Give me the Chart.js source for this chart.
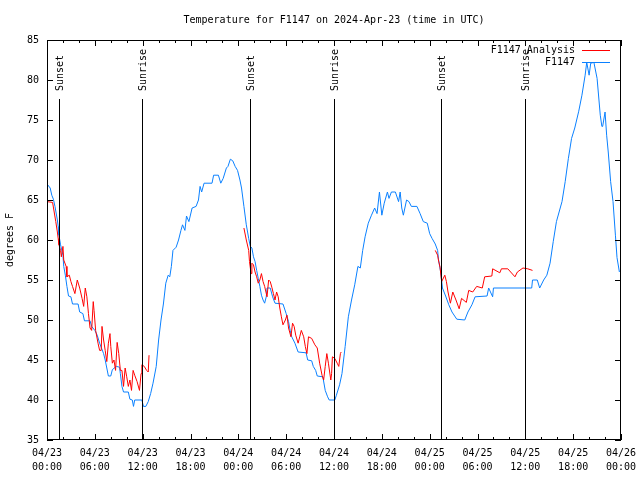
<!DOCTYPE html>
<html>
<head>
<meta charset="utf-8">
<script src="https://cdn.jsdelivr.net/npm/chart.js@4"></script>
<style>html,body{margin:0;padding:0;background:#fff}</style>
</head>
<body>
<canvas id="chart" width="640" height="480"></canvas>
<script>
// hours since 2024-04-23 00:00 UTC
const obsHours = [0.0,0.4,0.6,0.8,1.0,1.3,1.4,1.5,1.7,2.0,2.1,2.3,2.5,2.7,3.0,3.2,3.9,4.1,4.5,4.7,5.4,5.6,6.0,6.3,6.6,7.1,7.3,7.5,7.7,8.0,8.2,8.7,9.1,9.2,9.4,9.6,10.2,10.4,10.7,10.85,11.0,11.9,12.1,12.4,12.7,13.0,13.3,13.7,14.0,14.3,14.6,14.9,15.2,15.4,15.6,15.8,16.2,16.5,16.8,17.0,17.3,17.5,17.8,18.2,18.7,19.0,19.2,19.4,19.7,20.7,20.9,21.5,21.8,22.1,22.5,22.7,23.0,23.3,23.6,23.9,24.2,24.4,24.7,25.0,25.3,25.5,25.7,25.9,26.1,26.3,26.5,26.7,26.9,27.1,27.3,27.5,27.6,28.0,28.3,28.6,29.6,30.0,30.3,30.5,30.7,31.1,31.5,32.5,32.7,33.2,33.4,33.7,33.9,34.6,34.9,35.2,35.4,36.1,36.3,36.7,37.0,37.2,37.4,37.8,38.2,38.6,39.0,39.3,39.6,39.9,40.3,40.7,41.1,41.4,41.7,42.0,42.3,42.7,42.9,43.2,43.7,44.1,44.3,44.5,44.7,45.1,45.4,45.7,46.4,46.8,47.2,47.7,48.0,48.3,48.7,49.0,49.1,49.4,49.6,50.0,50.4,50.8,51.4,52.4,52.8,53.3,53.7,55.2,55.4,55.9,56.0,60.8,60.9,61.5,61.8,62.3,62.7,63.1,63.5,63.9,64.6,65.0,65.4,65.8,66.2,66.7,67.1,67.5,67.7,68.0,68.2,68.6,69.0,69.4,69.6,69.7,70.0,70.2,70.4,70.7,71.0,71.3,71.5,71.8];
const obsTemps = [67,66.5,65.6,65.1,64.2,62.5,61.7,60.6,59.4,58.1,56.7,55.6,54.2,53,52.9,52,52,51,50.8,49.9,49.9,49.2,48.7,48.1,47.1,45.8,45,44,43,43,43.8,44.2,44.1,43.3,41.7,41,41,40.1,40,39.2,40,40,39.2,39.2,39.8,40.8,42.1,44.2,47.5,50,52,54.6,55.6,55.4,56.7,58.7,59.1,60,61.2,61.9,61.2,63,62.3,64,64.2,65,66.7,66,67.1,67.1,68.1,68.1,67.1,67.7,69,69.2,70.1,69.9,69.2,68.7,67.5,66.5,64.2,61.9,60.2,59.2,59,57.9,57.3,56.2,55.2,54.2,53.1,52.5,52.1,52.9,54,54,52.9,52.1,52,50.8,49.8,48.7,47.9,47.1,46,45.9,45,44.9,44.2,43.7,43,42.9,41.2,40.4,40,40,40.6,41.9,43.3,45,46.7,50.4,52.5,54.4,56.7,56.5,58.7,60.4,62.1,63.1,64,63.3,66,63.1,64.6,66,65.2,66,66,64.8,66,64,63.1,65,64.8,64.2,64.2,63.3,62.3,62.1,60.8,60.2,59.5,58.7,57.6,55.9,54,53,51.9,51,50.1,50,51,51.9,52.9,53,54,52.9,54,54,55,55,54,55,55.6,57.1,59.8,62.3,64.8,67.3,70.2,72.7,74,76.1,78.1,80.6,82.2,80.6,82.1,82.2,80.2,75.6,74.2,74.2,76,73.1,71,67.3,64.8,60.6,57.8,56];

// analysis runs only overnight; null marks the breaks
const anaHours = [0.0,0.7,0.9,1.1,1.3,1.4,1.5,1.7,1.8,2.0,2.1,2.4,2.5,2.8,3.0,3.2,3.5,3.8,4.1,4.4,4.6,4.8,5.0,5.2,5.4,5.6,5.8,5.9,6.1,6.4,6.6,6.8,6.9,7.1,7.3,7.5,7.7,7.9,8.0,8.2,8.4,8.6,8.8,9.0,9.2,9.4,9.6,9.8,10.0,10.2,10.4,10.6,10.8,11.0,11.3,11.6,11.8,11.9,12.2,12.5,12.7,12.8,
  18,
  24.7,25.0,25.3,25.4,25.6,25.7,25.9,26.1,26.3,26.5,26.7,26.9,27.1,27.3,27.6,27.8,28.0,28.2,28.4,28.6,28.8,29.0,29.2,29.4,29.6,29.9,30.1,30.3,30.6,30.8,31.0,31.2,31.5,31.7,31.9,32.2,32.4,32.6,32.8,33.2,33.6,33.9,34.2,34.5,34.7,34.9,35.1,35.3,35.6,35.7,35.8,36.1,36.4,36.6,36.8,36.9,
  42,
  48.7,49.0,49.1,49.3,49.5,49.9,50.1,50.3,50.6,50.9,51.3,51.7,52.0,52.6,52.9,53.4,53.9,54.6,54.9,55.8,55.9,56.8,57.0,57.8,58.7,59.0,59.7,60.3,60.9];
const anaTemps = [64.8,64.7,63.5,62.3,61,60.2,59.4,58.7,57.9,59.2,57.5,56.7,55.4,55.6,54.8,54.2,53.3,55,54,52.7,51.7,54,52.9,50.8,49,48.7,52.3,51.2,48.7,47.1,46.2,46.2,49.2,47.5,46.2,44.8,47.1,48.3,46.7,44.6,45,43.7,47.2,45.8,43.7,43.7,41.7,44,42.9,41.7,42.5,41.2,43.7,43.1,42.3,41.2,43.3,44.4,44.2,43.7,43.5,45.6,
  null,
  61.5,60,58.7,57.3,55.8,57.1,56.9,56,55.4,54.6,55,55.8,54.8,54.2,52.9,55,54.8,54.1,53.3,52.5,53.5,52.9,51.5,50.4,49.4,50,50.6,49,47.9,49.6,49.2,48.1,47.1,47.9,48.7,47.9,46.7,45.8,47.9,47.7,46.9,46.5,44.6,43.1,42.5,44.2,45.8,44.6,42.5,43.3,45.4,45.2,44.6,44.2,45.8,46,
  null,
  58.7,58.1,57.5,56.6,54.8,55.6,54.8,53.5,52.1,53.5,52.5,51.4,52.7,52.2,53.7,53.5,54.2,54,55.4,55.5,56.4,55.9,56.4,56.4,55.4,56,56.5,56.4,56.2];

const eventHours = [1.45, 11.95, 25.5, 36.0, 49.45, 60.0];
const eventNames = ["Sunset", "Sunrise", "Sunset", "Sunrise", "Sunset", "Sunrise"];

const seriesNames = ["F1147 Analysis", "F1147"];
const seriesColors = ["#ff0000", "#0a80ff"];

const titleText = "Temperature for F1147 on 2024-Apr-23 (time in UTC)";
const yTitle = "degrees F";

const FONT = "'DejaVu Sans Mono', monospace";

function pairs(xs, ys) {
  return xs.map((x, i) => ({ x: x, y: ys[i] }));
}

function pad2(n) {
  return (n < 10 ? "0" : "") + n;
}

const gnuplotBits = {
  id: "gnuplotBits",
  afterDatasetsDraw(chart) {
    const { ctx, chartArea: a, scales } = chart;
    const x = scales.x, y = scales.y;
    ctx.save();
    ctx.fillStyle = "#000";
    ctx.strokeStyle = "#000";
    ctx.lineWidth = 1;
    ctx.font = "10px " + FONT;

    // sunrise / sunset markers
    eventHours.forEach((h, i) => {
      const px = Math.round(x.getPixelForValue(h)) + 0.5;
      ctx.beginPath();
      ctx.moveTo(px, a.top + 59);
      ctx.lineTo(px, a.bottom);
      ctx.stroke();
      ctx.save();
      ctx.translate(px + 1, a.top + 51);
      ctx.rotate(-Math.PI / 2);
      ctx.textAlign = "left";
      ctx.textBaseline = "middle";
      ctx.fillText(eventNames[i], 0, 0);
      ctx.restore();
    });

    // ticks, pointing inwards
    ctx.beginPath();
    for (let h = 0; h <= 72; h += 2) {
      const px = Math.round(x.getPixelForValue(h)) + 0.5;
      const len = h % 6 === 0 ? 6 : 3;
      ctx.moveTo(px, a.bottom);
      ctx.lineTo(px, a.bottom - len);
      ctx.moveTo(px, a.top);
      ctx.lineTo(px, a.top + len);
    }
    for (let t = 35; t <= 85; t += 5) {
      const py = Math.round(y.getPixelForValue(t)) + 0.5;
      ctx.moveTo(a.left, py);
      ctx.lineTo(a.left + 6, py);
      ctx.moveTo(a.right, py);
      ctx.lineTo(a.right - 6, py);
    }
    ctx.stroke();

    // border
    ctx.strokeRect(a.left + 0.5, a.top + 0.5, a.right - a.left - 1, a.bottom - a.top - 1);

    // legend
    ctx.textAlign = "right";
    ctx.textBaseline = "middle";
    seriesNames.forEach((name, i) => {
      const ly = a.top + 10 + i * 12;
      ctx.fillStyle = "#000";
      ctx.fillText(name, a.right - 46, ly);
      ctx.strokeStyle = seriesColors[i];
      ctx.beginPath();
      ctx.moveTo(a.right - 39, ly + 0.5);
      ctx.lineTo(a.right - 11, ly + 0.5);
      ctx.stroke();
    });

    // title and y axis label
    ctx.fillStyle = "#000";
    ctx.textAlign = "center";
    ctx.fillText(titleText, (a.left + a.right) / 2, 20);
    ctx.save();
    ctx.translate(10, (a.top + a.bottom) / 2);
    ctx.rotate(-Math.PI / 2);
    ctx.fillText(yTitle, 0, 0);
    ctx.restore();
    ctx.restore();
  }
};

new Chart(document.getElementById("chart"), {
  type: "line",
  data: {
    datasets: [
      {
        label: seriesNames[0],
        data: pairs(anaHours, anaTemps),
        borderColor: seriesColors[0],
        borderWidth: 1,
        pointRadius: 0,
        tension: 0,
        spanGaps: false,
        fill: false,
      },
      {
        label: seriesNames[1],
        data: pairs(obsHours, obsTemps),
        borderColor: seriesColors[1],
        borderWidth: 1,
        pointRadius: 0,
        tension: 0,
        fill: false,
      },
    ],
  },
  options: {
    responsive: false,
    animation: false,
    devicePixelRatio: 1,
    layout: { padding: { top: 40, right: 19, left: 0, bottom: 0 } },
    plugins: { legend: { display: false }, tooltip: { enabled: false } },
    scales: {
      x: {
        type: "linear",
        min: 0,
        max: 72,
        afterFit: (s) => { s.height = 40; },
        grid: { display: false },
        border: { display: false },
        ticks: {
          stepSize: 6,
          autoSkip: false,
          maxRotation: 0,
          padding: -2,
          color: "#000",
          font: { family: FONT, size: 10, lineHeight: 1.45 },
          callback: (v) => ["04/" + (23 + Math.floor(v / 24)), pad2(v % 24) + ":00"],
        },
      },
      y: {
        min: 35,
        max: 85,
        afterFit: (s) => { s.width = 47; },
        grid: { display: false },
        border: { display: false },
        ticks: {
          stepSize: 5,
          padding: 0,
          color: "#000",
          font: { family: FONT, size: 10 },
        },
      },
    },
  },
  plugins: [gnuplotBits],
});
</script>
</body>
</html>
